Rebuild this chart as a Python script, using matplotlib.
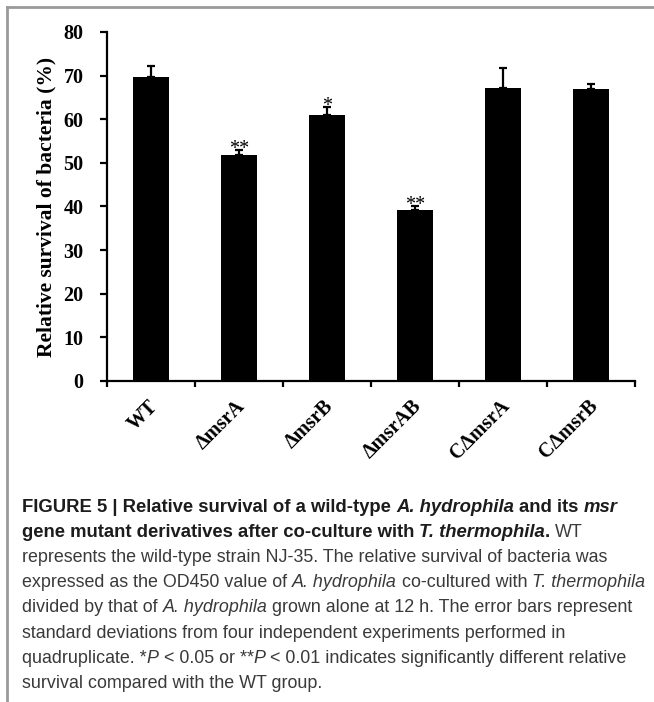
import numpy as np
import matplotlib
matplotlib.use("Agg")
import matplotlib.pyplot as plt
from matplotlib import font_manager
from matplotlib.lines import Line2D

# strains and survival (%)
strains = ["WT", "ΔmsrA", "ΔmsrB", "ΔmsrAB", "CΔmsrA", "CΔmsrB"]
survival = [69.6, 51.7, 61.0, 39.2, 67.2, 67.0]
sd = [2.7, 1.2, 1.9, 0.9, 4.6, 1.1]
signif = ["", "**", "*", "**", "", ""]

# caption, one list of (text, weight, style) runs per printed line
caption = [
    [("FIGURE 5 | Relative survival of a wild-type ", "bold", "normal"),
     ("A. hydrophila", "bold", "italic"),
     (" and its ", "bold", "normal"),
     ("msr", "bold", "italic")],
    [("gene mutant derivatives after co-culture with ", "bold", "normal"),
     ("T. thermophila", "bold", "italic"),
     (".", "bold", "normal"),
     (" WT", "normal", "normal")],
    [("represents the wild-type strain NJ-35. The relative survival of bacteria was", "normal", "normal")],
    [("expressed as the OD450 value of ", "normal", "normal"),
     ("A. hydrophila", "normal", "italic"),
     (" co-cultured with ", "normal", "normal"),
     ("T. thermophila", "normal", "italic")],
    [("divided by that of ", "normal", "normal"),
     ("A. hydrophila", "normal", "italic"),
     (" grown alone at 12 h. The error bars represent", "normal", "normal")],
    [("standard deviations from four independent experiments performed in", "normal", "normal")],
    [("quadruplicate. *", "normal", "normal"),
     ("P", "normal", "italic"),
     (" < 0.05 or **", "normal", "normal"),
     ("P", "normal", "italic"),
     (" < 0.01 indicates significantly different relative", "normal", "normal")],
    [("survival compared with the WT group.", "normal", "normal")],
]

W, H = 654, 702
fig = plt.figure(figsize=(W / 100, H / 100), dpi=100)

serif = "Liberation Serif"
installed = {f.name for f in font_manager.fontManager.ttflist}
capfont = "Liberation Sans Narrow" if "Liberation Sans Narrow" in installed else "Liberation Sans"

# grey frame (top and left)
fig.add_artist(Line2D([7 / W, 7 / W], [0, 1 - 7 / H], color="#9a9a9a", lw=2))
fig.add_artist(Line2D([7 / W, 1], [1 - 7 / H, 1 - 7 / H], color="#9a9a9a", lw=2))

ax = fig.add_axes([107 / W, 1 - 381 / H, 528 / W, 349 / H])
x = np.arange(len(strains))
ax.bar(x, survival, width=0.4, color="black")
ax.errorbar(x, survival, yerr=[np.zeros(len(sd)), sd], fmt="none", ecolor="black",
            elinewidth=1.6, capsize=2.8, capthick=1.6)
for xi, v, e, s in zip(x, survival, sd, signif):
    if s:
        ax.annotate(s, (xi, v + e), xytext=(0, -3), textcoords="offset points",
                    ha="center", va="baseline", fontsize=14.5, family=serif)

ax.set_xlim(-0.5, len(strains) - 0.5)
ax.set_ylim(0, 80)
ax.set_yticks(range(0, 81, 10))
ax.set_xticks(np.append(x - 0.5, len(strains) - 0.5))
ax.set_xticklabels([""] * (len(strains) + 1))
for xi, lab in zip(x, strains):
    ax.annotate(lab, (xi - 0.04, 0), xytext=(0, -11), textcoords="offset points",
                ha="right", va="top", rotation=45, rotation_mode="anchor",
                fontsize=14.5, fontweight="bold", family=serif, annotation_clip=False)
ax.tick_params(axis="y", direction="out", length=5, width=1.6, color="black", pad=12)
ax.tick_params(axis="x", direction="out", length=4.5, width=1.6, color="black")
for lab in ax.get_yticklabels():
    lab.set_fontfamily(serif)
    lab.set_fontweight("bold")
    lab.set_fontsize(14.5)
ax.set_ylabel("Relative survival of bacteria (%)", family=serif, fontweight="bold",
              fontsize=15.5, labelpad=5)
for side in ["top", "right"]:
    ax.spines[side].set_visible(False)
for side in ["left", "bottom"]:
    ax.spines[side].set_linewidth(1.6)

# caption drawn run by run
renderer = fig.canvas.get_renderer()


def run_width(txt, size, weight, style):
    t = fig.text(0, 0, txt, fontsize=size, family=capfont, fontweight=weight, fontstyle=style)
    w = t.get_window_extent(renderer).width
    t.remove()
    return w


def line_width(runs, size, bsize):
    total = 0
    for txt, wt, st in runs:
        sz = bsize if wt == "bold" else size
        sp = run_width("x x", sz, wt, st) - run_width("xx", sz, wt, st)
        core = txt.strip(" ")
        total += (len(txt) - len(txt.lstrip(" "))) * sp
        total += run_width(core, sz, wt, st) if core else 0
        total += (len(txt) - len(txt.rstrip(" "))) * sp
    return total


size = 12.0 * 624 / line_width(caption[3], 12.0, 12.0)
bsize = 12.0 * 595 / line_width(caption[0], 12.0, 12.0)
x0, y0, dy = 22, 512, 25.1
for i, runs in enumerate(caption):
    xp = x0
    yp = 1 - (y0 + i * dy) / H
    for txt, wt, st in runs:
        sz = bsize if wt == "bold" else size
        sp = run_width("x x", sz, wt, st) - run_width("xx", sz, wt, st)
        col = "#1c1c1c" if wt == "bold" else "#3a3a3a"
        xp += (len(txt) - len(txt.lstrip(" "))) * sp
        core = txt.strip(" ")
        if core:
            fig.text(xp / W, yp, core, fontsize=sz, family=capfont, fontweight=wt,
                     fontstyle=st, color=col, va="baseline", ha="left")
            xp += run_width(core, sz, wt, st)
        xp += (len(txt) - len(txt.rstrip(" "))) * sp

fig.savefig("out.png", dpi=100)
